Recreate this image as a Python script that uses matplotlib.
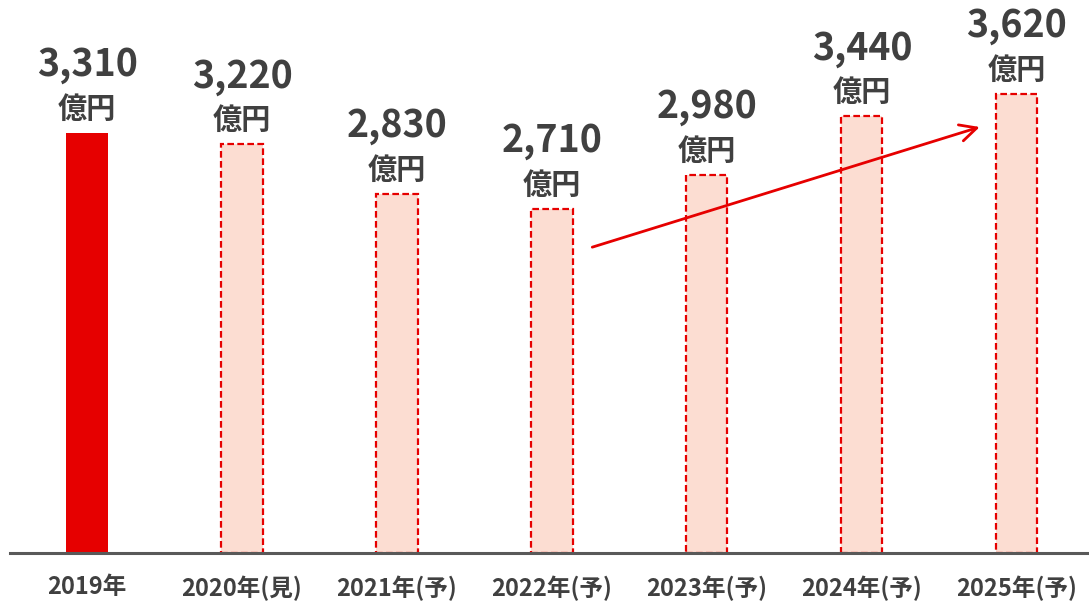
import matplotlib
matplotlib.use("Agg")
import matplotlib.pyplot as plt
from matplotlib.patches import FancyArrowPatch

plt.rcParams['font.family'] = ['Noto Sans CJK JP', 'DejaVu Sans']

categories = ["2019年", "2020年(見)", "2021年(予)", "2022年(予)", "2023年(予)", "2024年(予)", "2025年(予)"]
values = [3310, 3220, 2830, 2710, 2980, 3440, 3620]
actual = [True, False, False, False, False, False, False]
value_labels = ["3,310", "3,220", "2,830", "2,710", "2,980", "3,440", "3,620"]
unit_label = "億円"
# arrow annotation (data coords: category index, value)
arrow_start = (3.26, 2410)
arrow_end = (5.76, 3357)

TEXT = "#404040"
RED = "#E60000"
FILL = "#FCDDD2"

fig = plt.figure(figsize=(10.89, 6.04), dpi=100)
ax = fig.add_axes([10/1089, 51/604, 1079/1089, 553/604])

x = list(range(len(categories)))
for xi, v, a in zip(x, values, actual):
    if a:
        ax.bar(xi, v, width=0.265, color=RED, edgecolor=RED, linewidth=0)
    else:
        ax.bar(xi, v, width=0.265, color=FILL, edgecolor=RED, linewidth=1.6,
               linestyle=(0, (3, 1.5)))

for xi, v, lab in zip(x, values, value_labels):
    ax.annotate(lab, (xi, v), xytext=(0, 57*0.72), textcoords='offset points',
                ha='center', va='baseline', fontsize=27, fontweight='bold', color=TEXT)
    ax.annotate(unit_label, (xi, v), xytext=(0, 15*0.72), textcoords='offset points',
                ha='center', va='baseline', fontsize=21, fontweight='bold', color=TEXT)

arr = FancyArrowPatch(arrow_start, arrow_end, arrowstyle='->,head_length=12,head_width=6',
                      color=RED, linewidth=2, mutation_scale=1, shrinkA=0, shrinkB=0)
ax.add_patch(arr)

ax.set_xlim(-0.497, 6.465)
ax.set_ylim(0, 553/0.1269)
ax.set_xticks(x)
ax.set_xticklabels(categories, fontsize=17, fontweight='bold', color=TEXT)
ax.tick_params(axis='x', length=0, pad=16)
ax.set_yticks([])
for s in ['top', 'right', 'left']:
    ax.spines[s].set_visible(False)
ax.spines['bottom'].set_color('#595959')
ax.spines['bottom'].set_linewidth(2.2)

fig.savefig("out.png", dpi=100)
